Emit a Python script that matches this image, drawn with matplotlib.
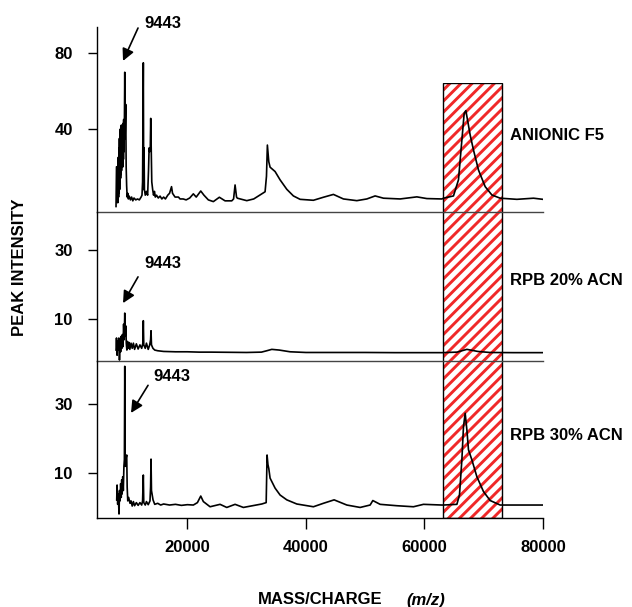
import matplotlib
matplotlib.use("Agg")
import matplotlib.pyplot as plt
from matplotlib.patches import Rectangle

plt.rcParams['font.family'] = ['Liberation Sans', 'DejaVu Sans']
plt.rcParams['font.weight'] = 'bold'
plt.rcParams['hatch.linewidth'] = 2.1

# ---------------- data ----------------
x_ticks = [20000, 40000, 60000, 80000]
x_range = [4760, 80000]
window = [63100, 73060]          # highlighted m/z window
peak_label = "9443"

panel_names = ["ANIONIC F5", "RPB 20% ACN", "RPB 30% ACN"]
panel_yticks = [[40, 80], [10, 30], [10, 30]]
panel_ylims = [[-3.9, 94.1], [-2.17, 41.0], [-2.96, 42.55]]

anionic_mz = [7970, 8050, 8190, 8260, 8350, 8400, 8450, 8500, 8540, 8580, 8620, 8660,
              8700, 8740, 8780, 8820, 8860, 8900, 8940, 8980, 9020, 9060, 9100, 9140,
              9180, 9220, 9260, 9300, 9340, 9380, 9443, 9500, 9604, 9680, 9760,
              9850, 9950, 10050, 10200, 10400, 10600, 10800, 11000, 11300, 11600, 11900,
              12200, 12350, 12450, 12575, 12640, 12693, 12760, 12900, 13100, 13300, 13450,
              13550, 13650, 13750, 13823, 13900, 14000, 14150, 14300, 14450, 14600, 14800,
              15100, 15400, 15700, 16000, 16300, 16700, 17000, 17334, 17500, 17925, 18500,
              18769, 19300, 19800, 20400, 21013, 21500, 22263, 22800, 23545, 24389, 25402,
              26364, 27495, 27800, 28052, 28300, 28440, 30026, 31200, 32271, 33115, 33350,
              33503, 33620, 33739, 33959, 34803, 35647, 36778, 37891, 39022, 41267, 42955,
              44643, 46331, 48592, 50280, 51681, 53082, 55900, 58719, 60407, 62938, 63208,
              64896, 65740, 66314, 66702, 66989, 67259, 67715, 68272, 69116, 70247, 71378,
              72778, 75597, 78399, 79986]
anionic_int = [-1.0, 20, 20, 1, 25, 4, 30, 6, 35, 8, 38, 12,
               40, 14, 41, 16, 42, 18, 41, 20, 42, 22, 40, 20,
               43, 24, 45, 28, 40, 42, 70, 35, 53, 20, 10,
               4, 6, 3, 4.5, 2.5, 4, 2, 3.5, 2.5, 3, 2.5,
               4, 5, 12, 75, 8, 30, 8, 5, 7, 5, 18,
               30, 28, 30, 45.6, 30, 12, 8, 5, 7, 4, 5,
               3.5, 4.5, 3, 4, 3, 5, 6, 9.5, 6, 4, 4,
               3, 3, 2.5, 3.5, 5.7, 4, 7.2, 5, 2.5, 1.6, 3.9,
               2.0, 2.0, 3, 10.4, 4, 3.4, 2.1, 3.0, 5.1, 6.8, 15,
               31.5, 27, 22.7, 19.8, 17.5, 13.1, 8.1, 4.6, 2.8, 2.3, 3.9,
               5.4, 3.0, 2.1, 3.0, 4.6, 3.4, 3.0, 4.1, 3.2, 3.0, 3.4,
               4.6, 13.1, 34.2, 48.3, 49.7, 44.8, 36.8, 28.9, 18.3, 9.5, 5.1,
               3.4, 2.8, 3.4, 2.8]

rpb20_mz = [7970, 8050, 8150, 8250, 8350, 8450, 8550, 8650, 8750, 8850, 8950, 9050,
            9150, 9250, 9350, 9443, 9520, 9620, 9700, 9800, 9900, 10000, 10150, 10300,
            10500, 10700, 10900, 11100, 11400, 11700, 12000, 12300, 12500, 12575, 12650,
            12900, 13100, 13400, 13650, 13800, 13874, 13950, 14200, 14500, 15000, 16000,
            18000, 20000, 22000, 24000, 27000, 30000, 32500, 33402, 34246, 35500, 37335,
            40000, 45000, 50000, 55000, 60000, 63000, 65500, 67158, 69000, 71000, 75000,
            80000]
rpb20_int = [1.0, 4.5, -0.5, 3.5, 1, 4.5, -1.9, 3, 0.5, 5, 1.5, 5.5,
             2, 8.5, 4, 11.7, 5, 8, 3, 1, 3.5, 1.5, 3.2, 1.2,
             3, 1.5, 3, 1.2, 2.8, 1.3, 2.5, 1.5, 3, 9.5, 2.5,
             1.5, 3, 1.2, 2.5, 4, 6.6, 2.5, 1.5, 1.0, 0.8, 0.6,
             0.5, 0.5, 0.4, 0.4, 0.35, 0.3, 0.4, 0.8, 1.2, 1.0, 0.5,
             0.3, 0.3, 0.3, 0.25, 0.25, 0.25, 0.4, 1.2, 0.6, 0.3, 0.25,
             0.25]

rpb30_mz = [8085, 8150, 8250, 8350, 8473, 8560, 8650, 8750, 8850, 8929, 9000, 9100,
            9200, 9300, 9380, 9443, 9520, 9620, 9773, 9850, 9950, 10100, 10330, 10500,
            10700, 10900, 11100, 11400, 11700, 12000, 12300, 12450, 12575, 12650, 12900,
            13100, 13400, 13700, 13800, 13874, 13950, 14212, 14500, 15000, 15500, 16000,
            17000, 18000, 19000, 20000, 21013, 21700, 22263, 22702, 23833, 25521, 26652,
            28052, 29453, 31000, 32558, 33300, 33450, 33600, 33739, 33959, 34803, 35647,
            36778, 38466, 41267, 42955, 44761, 46904, 49149, 50837, 51292, 52525, 55343,
            58145, 59833, 62938, 63208, 65470, 65909, 66314, 66584, 66871, 67158, 67428,
            68002, 68846, 69960, 71091, 72778, 75597, 79986]
rpb30_int = [2.3, 6.6, 1, 4, -1.8, 5, 2, 7, 3, 8.1, 4, 9,
             5, 12, 14, 41, 12, 14, 15.3, 6, 2, 3, 1.3, 2,
             0.5, 1.8, 0.6, 1.5, 0.7, 1.5, 0.8, 2, 9.5, 1.5, 0.8,
             1.8, 0.9, 2, 6, 14.1, 5, 2.3, 1.0, 1.3, 0.8, 1.1,
             0.8, 1.0, 0.7, 0.9, 0.8, 1.5, 3.4, 1.8, 0.3, 1.0, 0.1,
             1.0, 0.1, 0.6, 1.1, 1.5, 15.3, 12.5, 11.4, 8.6, 5.7, 3.7,
             2.3, 1.1, 0.3, 1.3, 2.3, 0.8, 0.1, 0.8, 2.1, 1.0, 0.6,
             0.3, 1.0, 0.8, 0.8, 1.0, 3.7, 13.9, 23.5, 27.4, 22.6, 16.8,
             13.9, 9.0, 4.7, 2.1, 0.8, 0.8, 0.8]

spectra = [(anionic_mz, anionic_int), (rpb20_mz, rpb20_int), (rpb30_mz, rpb30_int)]

# arrow annotations: (text x, text y, arrow tail x, tail y, head x, head y)
arrows = [(15900, 96.0, 11680, 93.4, 9150, 76.0),
          (15900, 26.0, 11680, 22.2, 9150, 14.6),
          (17360, 38.2, 13370, 35.5, 10500, 27.5)]

# ---------------- figure ----------------
W, H = 632, 607
fig = plt.figure(figsize=(W / 100, H / 100), dpi=100)

L = 97 / W
AW = (543 - 97) / W
panels_px = [(26.7, 212), (212, 361), (361, 518)]

# overlay axes for the hatched window (behind the spectra)
ov = fig.add_axes([L, 1 - 518 / H, AW, (518 - 82.7) / H], zorder=0)
ov.set_xlim(x_range)
ov.set_ylim(0, 1)
ov.axis('off')
ov.add_patch(Rectangle((window[0], 0), window[1] - window[0], 1,
                       facecolor='white', edgecolor='#f02828', hatch='///', lw=0))
ov.add_patch(Rectangle((window[0], 0), window[1] - window[0], 1,
                       fill=False, edgecolor='black', lw=1.0))

axes = []
for i, (top, bot) in enumerate(panels_px):
    ax = fig.add_axes([L, 1 - bot / H, AW, (bot - top) / H], zorder=1)
    ax.set_facecolor('none')
    mz, inten = spectra[i]
    ax.plot(mz, inten, color='black', lw=1.2)
    ax.set_xlim(x_range)
    ax.set_ylim(panel_ylims[i])
    ax.set_yticks(panel_yticks[i])
    ax.set_yticklabels([str(v) for v in panel_yticks[i]], fontsize=12, fontweight='bold')
    ax.spines['top'].set_visible(False)
    ax.spines['right'].set_visible(False)
    ax.spines['left'].set_linewidth(1.0)
    ax.tick_params(axis='y', length=6.5, width=1.0, pad=11)
    if i < 2:
        ax.set_xticks([])
        ax.spines['bottom'].set_color('#444444')
        ax.spines['bottom'].set_linewidth(1.0)
    else:
        ax.set_xticks(x_ticks)
        ax.set_xticklabels([str(v) for v in x_ticks], fontsize=12, fontweight='bold')
        ax.tick_params(axis='x', length=8, width=1.0, pad=8)
        ax.spines['bottom'].set_linewidth(1.0)
    tx, ty, ax0, ay0, hx, hy = arrows[i]
    ax.annotate('', xy=(hx, hy), xytext=(ax0, ay0), annotation_clip=False,
                arrowprops=dict(arrowstyle='-|>,head_length=0.6,head_width=0.3',
                                color='black', lw=1.2, mutation_scale=12,
                                shrinkA=0, shrinkB=0))
    ax.text(tx, ty, peak_label, ha='center', va='center', fontsize=12,
            fontweight='bold', clip_on=False)
    axes.append(ax)

label_y = [135, 280.7, 436]
for name, y in zip(panel_names, label_y):
    fig.text(510 / W, 1 - y / H, name, ha='left', va='center', fontsize=12,
             fontweight='bold')

fig.text(20 / W, 1 - 267 / H, "PEAK INTENSITY", rotation=90, ha='center',
         va='center', fontsize=12, fontweight='bold')
fig.text(258 / W, 1 - 600 / H, "MASS/CHARGE", ha='left', va='center',
         fontsize=12, fontweight='bold')
fig.text(445 / W, 1 - 600 / H, "(m/z)", ha='right', va='center',
         fontsize=12, fontweight='bold', style='italic')

fig.savefig("out.png", dpi=100)
